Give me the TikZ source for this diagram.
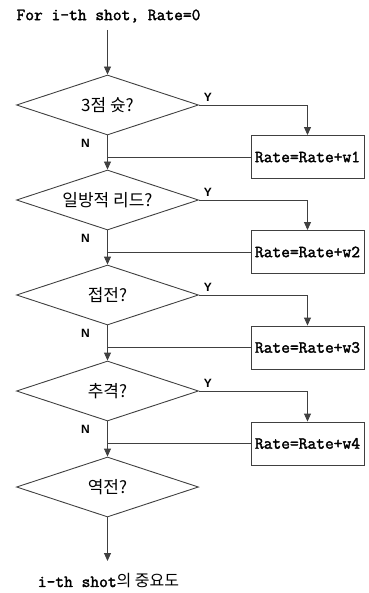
\documentclass[tikz,border=0pt]{standalone}
\usepackage{fontspec}
\newfontfamily\kofont{Noto Sans CJK KR}
\newfontfamily\lblfont{Liberation Sans}
\newfontfamily\monofnt[FakeBold=2]{Latin Modern Mono}
\usetikzlibrary{shapes.geometric,arrows.meta}
\begin{document}
\begin{tikzpicture}[x=1pt,y=-1pt,
  conn/.style={draw=black!75,line width=0.9pt},
  arr/.style={conn,-{Triangle[length=8pt,width=7pt]}},
  decision/.style={diamond,draw=black!75,line width=0.9pt,minimum width=182pt,minimum height=60pt,inner sep=0pt,shape aspect=3,font=\kofont\fontsize{17}{19}\selectfont},
  ratebox/.style={rectangle,draw=black!75,line width=0.9pt,minimum width=113pt,minimum height=43pt,inner sep=0pt,font=\monofnt\fontsize{17}{19}\selectfont},
  yn/.style={font=\lblfont\bfseries\fontsize{12}{13}\selectfont,inner sep=0pt},
  plain/.style={inner sep=0pt,font=\monofnt\fontsize{17}{19}\selectfont}]
\useasboundingbox (0,0) rectangle (368,593);
\node[plain] (start) at (108.5,16) {For i-th shot, Rate=0};
\node[decision] (d1) at (107.5,105) {3점 슛?};
\node[decision] (d2) at (107.5,200) {일방적 리드?};
\node[decision] (d3) at (107.5,295) {접전?};
\node[decision] (d4) at (107.5,391) {추격?};
\node[decision] (d5) at (107.5,487) {역전?};
\node[ratebox] (b1) at (307.5,157) {Rate=Rate+w1};
\node[ratebox] (b2) at (307.5,252) {Rate=Rate+w2};
\node[ratebox] (b3) at (307.5,347.5) {Rate=Rate+w3};
\node[ratebox] (b4) at (307.5,443.5) {Rate=Rate+w4};
\node[plain] (end) at (108.5,581) {i-th shot{\kofont\fontsize{16}{18}\selectfont 의 중요도}};
\coordinate (s0) at (107.5,30);
\draw[arr] (s0) -- (d1.north);
\draw[arr] (d1.south) -- (d2.north);
\draw[arr] (d2.south) -- (d3.north);
\draw[arr] (d3.south) -- (d4.north);
\draw[arr] (d4.south) -- (d5.north);
\coordinate (e0) at (107.5,561);
\draw[arr] (d5.south) -- (e0);
\foreach \i in {1,2,3,4}{
  \draw[arr] (d\i.east) -| (b\i.north);
  \draw[conn] (b\i.west) -- (b\i.west -| d\i.south);
  \node[yn] at ([shift={(9,-8)}]d\i.east) {Y};
  \node[yn] at ([shift={(-22,8)}]d\i.south) {N};
}
\end{tikzpicture}
\end{document}
